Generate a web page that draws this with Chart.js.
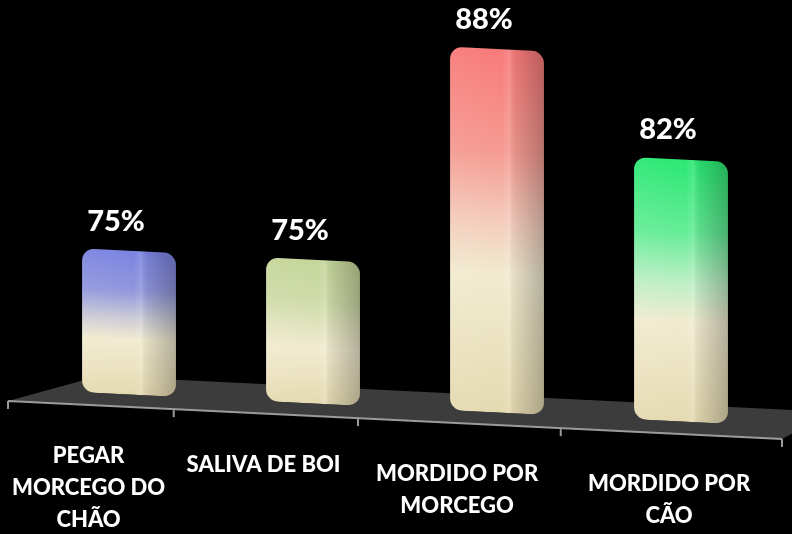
<!DOCTYPE html>
<html>
<head>
<meta charset="utf-8">
<script src="https://cdn.jsdelivr.net/npm/chart.js@4/dist/chart.umd.min.js"></script>
<style>
  html, body { margin: 0; padding: 0; background: #000; }
  #wrap { width: 792px; height: 534px; position: relative; }
</style>
</head>
<body>
<div id="wrap"><canvas id="chart"></canvas></div>
<script>
const categories = [
    ['PEGAR', 'MORCEGO DO', 'CHÃO'],
    ['SALIVA DE BOI'],
    ['MORDIDO POR', 'MORCEGO'],
    ['MORDIDO POR', 'CÃO']
];
const percentages = [75, 75, 88, 82];
const valueLabels = percentages.map(v => v + '%');
const yMin = 66.5;
const yMax = 88.3;

// colour at the top of each bar, the lighter tint it fades through, then cream
const topColors = ['#7a84e2', '#c6d69a', '#f87a7a', '#2be873'];
const blendColors = ['#9298dc', '#cedba8', '#f59a92', '#66ec98'];
const midColors = ['#cccbd6', '#e2e4c0', '#f4cbbb', '#bdefc5'];

const FONT = 'Lato, "Open Sans", sans-serif';
const SLANT = 0.049;   // floor tilts down to the right
const BOW = 148;       // perspective squeeze along the floor's front edge
const LINE_H = 32;

function slantOrigin(chart) {
    return chart.chartArea.left - 29;
}

// x on the floor's front edge for a fraction t of the way along
function frontX(chart, t) {
    const a = chart.chartArea;
    const x0 = slantOrigin(chart);
    const w = (a.right + 9) - x0;
    return x0 + w * t - BOW * t * (1 - t);
}

function barFill(ctx) {
    const chart = ctx.chart;
    const y = chart.scales.y;
    const i = ctx.dataIndex;
    if (!chart.chartArea || !y) return topColors[i];
    const top = y.getPixelForValue(percentages[i]);
    const bottom = y.getPixelForValue(yMin);
    const g = chart.ctx.createLinearGradient(0, top, 0, bottom);
    g.addColorStop(0, topColors[i]);
    g.addColorStop(0.28, blendColors[i]);
    g.addColorStop(0.47, midColors[i]);
    g.addColorStop(0.62, '#f1ebd0');
    g.addColorStop(1, '#e4dab1');
    return g;
}

const stage = {
    id: 'stage',
    beforeDatasetsDraw(chart) {
        const ctx = chart.ctx;
        const area = chart.chartArea;
        const x0 = slantOrigin(chart);
        ctx.save();
        ctx.transform(1, SLANT, 0, 1, 0, -SLANT * x0);

        // floor slab
        const front = area.bottom + 12.5;
        const back = area.bottom - 17;
        const xFR = frontX(chart, 1);
        ctx.fillStyle = '#3c3c3c';
        ctx.beginPath();
        ctx.moveTo(x0, front);
        ctx.lineTo(area.left + 62, back);
        ctx.lineTo(area.right + 60, back);
        ctx.lineTo(xFR, front);
        ctx.closePath();
        ctx.fill();

        // front edge with category ticks
        ctx.strokeStyle = '#9b9b9b';
        ctx.lineWidth = 2;
        ctx.beginPath();
        ctx.moveTo(x0, front);
        ctx.lineTo(xFR, front);
        const n = categories.length;
        for (let i = 0; i <= n; i++) {
            const tx = frontX(chart, i / n);
            ctx.moveTo(tx, front);
            ctx.lineTo(tx, front + 8);
        }
        ctx.stroke();
    },
    afterDatasetsDraw(chart) {
        const ctx = chart.ctx;
        const meta = chart.getDatasetMeta(0);
        // side face, edge highlight and a soft shadow on each bar
        meta.data.forEach(bar => {
            const { x, y, base, width } = bar.getProps(['x', 'y', 'base', 'width'], true);
            const l = x - width / 2;
            const g = ctx.createLinearGradient(l, 0, l + width, 0);
            g.addColorStop(0, 'rgba(255,255,255,0.05)');
            g.addColorStop(0.55, 'rgba(255,255,255,0)');
            g.addColorStop(0.63, 'rgba(255,255,255,0.12)');
            g.addColorStop(0.70, 'rgba(0,0,0,0.07)');
            g.addColorStop(1, 'rgba(0,0,0,0.25)');
            ctx.fillStyle = g;
            ctx.beginPath();
            ctx.roundRect(l, y, width, base - y, 12);
            ctx.fill();
        });
        ctx.restore();
    },
    afterDraw(chart) {
        const ctx = chart.ctx;
        const area = chart.chartArea;
        const x0 = slantOrigin(chart);
        const xs = chart.scales.x;
        const meta = chart.getDatasetMeta(0);
        ctx.save();
        ctx.fillStyle = '#ffffff';
        ctx.textAlign = 'center';

        // value above each bar
        ctx.font = '900 29px ' + FONT;
        ctx.textBaseline = 'alphabetic';
        meta.data.forEach((bar, i) => {
            const top = bar.y + SLANT * (bar.x - x0);
            ctx.fillText(valueLabels[i], bar.x - 13, top - 20);
        });

        // category names centred on each stretch of the floor's front edge
        ctx.font = '900 22px ' + FONT;
        ctx.textBaseline = 'middle';
        const span = area.right - area.left;
        categories.forEach((lines, i) => {
            const t = (xs.getPixelForValue(i) - area.left) / span;
            const cx = frontX(chart, t);
            const cy = area.bottom + 63.5 + SLANT * (cx - x0);
            lines.forEach((line, j) => ctx.fillText(line, cx, cy + j * LINE_H));
        });
        ctx.restore();
    }
};

new Chart(document.getElementById('chart'), {
    type: 'bar',
    data: {
        labels: categories.map(c => c.join(' ')),
        datasets: [{
            data: percentages,
            base: yMin,
            backgroundColor: barFill,
            borderWidth: 0,
            borderRadius: 12,
            borderSkipped: false,
            barPercentage: 0.51,
            categoryPercentage: 1.0
        }]
    },
    options: {
        responsive: true,
        maintainAspectRatio: false,
        animation: false,
        layout: { padding: { top: 20, left: 37, right: 19, bottom: 145.5 } },
        scales: {
            x: { display: false },
            y: { display: false, min: yMin, max: yMax }
        },
        plugins: {
            legend: { display: false },
            tooltip: { enabled: false }
        }
    },
    plugins: [stage]
});
</script>
</body>
</html>
